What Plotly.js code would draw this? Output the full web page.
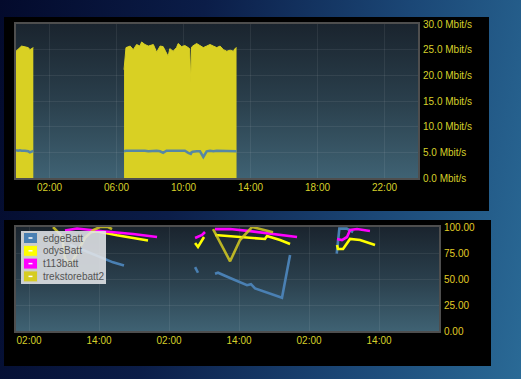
<!DOCTYPE html>
<html>
<head>
<meta charset="utf-8">
<script src="https://cdn.plot.ly/plotly-3.0.1.min.js"></script>
<style>
  html, body { margin:0; padding:0; width:521px; height:379px; overflow:hidden; }
  body { background: linear-gradient(100deg, #030a2c 0%, #0b1d48 35%, #1b4776 70%, #2a6a96 100%); position:relative; font-family: Arial, "Liberation Sans", sans-serif; }
  .panel { position:absolute; background:#000; }
  .plotbg { position:absolute; box-sizing:border-box; border:2px solid #4e4e4e;
            background: linear-gradient(to bottom, #1a242e 0%, #2a3f4c 50%, #3f6273 100%); }
  #chart { position:absolute; left:0; top:0; width:521px; height:379px; }
</style>
</head>
<body>
<div class="panel" style="left:4px;top:17px;width:485px;height:194px;"></div>
<div class="panel" style="left:4px;top:220px;width:487px;height:146px;"></div>
<div class="plotbg" style="left:14px;top:22px;width:406px;height:158px;"></div>
<div class="plotbg" style="left:14px;top:225px;width:427px;height:108px;"></div>
<div id="chart"></div>
<script>
// ---------- Top chart: throughput (Mbit/s) over one day ----------
const topDay = "2015-03-05";
const topTimes = ["00:00","00:08","00:14","00:20","00:32","00:44","00:50","00:56","01:02", null,
  "06:27","06:34","06:49","07:00","07:12","07:24","07:30","07:42","07:54","08:12","08:24","08:36","08:47",
  "08:59","09:05","09:11","09:23","09:35","09:41","09:53","10:05","10:17","10:22","10:26","10:29","10:33",
  "10:47","10:59","11:11","11:23","11:35","11:47","11:59","12:11","12:23","12:35","12:47","12:59","13:04","13:10"];
const downMbit = [24.7,25.0,25.4,25.7,25.5,25.4,25.0,25.2,25.4, null,
  21.1,25.4,25.7,25.0,26.0,25.7,26.5,26.0,25.7,26.0,24.5,25.7,25.6,
  24.4,23.7,25.2,24.7,25.4,26.2,25.6,25.8,25.4,25.2,18.6,25.5,25.7,
  26.2,25.8,25.4,25.7,26.0,25.7,25.4,25.7,25.0,24.7,24.9,24.7,25.2,25.4];
const upMbit = [5.4,5.3,5.4,5.3,5.3,5.2,5.0,5.2,5.3, null,
  5.2,5.3,5.3,5.3,5.4,5.3,5.3,5.3,5.2,5.3,5.3,5.2,4.9,
  5.3,5.3,5.3,5.2,5.3,5.3,5.2,5.3,4.9,4.8,4.7,5.0,5.1,
  5.2,5.2,4.1,5.2,5.3,5.2,5.3,5.3,5.2,5.3,5.2,5.3,5.2,5.2];
const topYTicks = [0,5,10,15,20,25,30];

// ---------- Bottom chart: battery levels (%) over three days ----------
const seriesNames = ["edgeBatt","odysBatt","t113batt","trekstorebatt2"];
const seriesColors = ["#4a80b3","#ffff00","#ff00ff","#d6cc22"];
const edgeTimes = ["2015-03-02 09:02","2015-03-02 11:57","2015-03-02 14:10","2015-03-02 16:24","2015-03-02 18:17", null,
  "2015-03-03 06:28","2015-03-03 06:58", null,
  "2015-03-03 09:53","2015-03-03 10:24","2015-03-03 12:28","2015-03-03 15:22","2015-03-03 16:03","2015-03-03 16:24","2015-03-03 16:45","2015-03-03 21:22","2015-03-03 22:45", null,
  "2015-03-04 06:45","2015-03-04 07:12","2015-03-04 08:28","2015-03-04 09:33"];
const edgeBatt = [83,76,71,66,63, null, 61.5,56, null, 55,56,51,44,45,43,41,32,73, null, 74.5,98.4,98.4,95];
const odysTimes = ["2015-03-02 12:27","2015-03-02 13:39","2015-03-02 17:05","2015-03-02 19:19","2015-03-02 22:24", null,
  "2015-03-03 06:28","2015-03-03 06:58","2015-03-03 08:00", null,
  "2015-03-03 09:53","2015-03-03 14:10","2015-03-03 16:14","2015-03-03 17:36","2015-03-03 18:27","2015-03-03 18:48","2015-03-03 21:02","2015-03-03 22:45", null,
  "2015-03-04 06:48","2015-03-04 06:58","2015-03-04 07:50","2015-03-04 08:31","2015-03-04 09:02","2015-03-04 10:45","2015-03-04 13:19"];
const odysBatt = [95,96,92,90,87, null, 84.6,80.8,90.4, null, 92.3,90.4,89.4,89.4,88.5,91.3,87.5,83.7, null, 82.7,78.8,78.8,83.7,88.5,87.5,82.7];
const t113Times = ["2015-03-02 08:10","2015-03-02 10:14","2015-03-02 14:10","2015-03-02 19:50","2015-03-02 23:57", null,
  "2015-03-03 06:28","2015-03-03 07:40","2015-03-03 08:10", null,
  "2015-03-03 09:53","2015-03-03 12:28","2015-03-03 15:53","2015-03-03 18:48","2015-03-03 21:02","2015-03-03 23:57", null,
  "2015-03-04 06:48","2015-03-04 07:39","2015-03-04 08:31","2015-03-04 09:02","2015-03-04 10:14","2015-03-04 11:05","2015-03-04 12:27"];
const t113batt = [96.6,98.6,96.2,93.3,90.4, null, 89.4,92.3,95.2, null, 98,98,96,94.2,92.3,90.4, null, 88.5,87.5,90.4,97.1,98,97.1,96.2];
const trekTimes = ["2015-03-02 06:07","2015-03-02 07:40","2015-03-02 08:10","2015-03-02 09:02","2015-03-02 11:36","2015-03-02 13:00","2015-03-02 14:10","2015-03-02 15:33","2015-03-02 16:14", null,
  "2015-03-03 09:33","2015-03-03 12:28","2015-03-03 14:10","2015-03-03 16:14","2015-03-03 19:50"];
const trekBatt = [100,91,70,63,89.5,97,100,100,98, null, 98,67,87.5,100,95];
const bottomYTicks = [0,25,50,75,100];

// ---------- Build ----------
const W = 521, H = 379;
const px = v => v / W, py = v => 1 - v / H;
const tickCol = "#d6d02a";
const tickFont = {family: "Arial, 'Liberation Sans', sans-serif", size: 10, color: tickCol};
const gridCol = "rgba(255,255,255,0.07)";

function splitSegments(xs, ys) {
  const segs = []; let cx = [], cy = [];
  xs.forEach((x, i) => {
    if (x === null || ys[i] === null) { if (cx.length) segs.push([cx, cy]); cx = []; cy = []; }
    else { cx.push(x); cy.push(ys[i]); }
  });
  if (cx.length) segs.push([cx, cy]);
  return segs;
}

const traces = [];
const topX = topTimes.map(t => t === null ? null : topDay + " " + t);
splitSegments(topX, downMbit).forEach(([sx, sy]) => {
  traces.push({type: "scatter", mode: "lines", x: sx, y: sy, xaxis: "x", yaxis: "y",
    fill: "tozeroy", fillcolor: "#d9d023", line: {color: "#d9d023", width: 1}, hoverinfo: "skip"});
});
traces.push({type: "scatter", mode: "lines", x: topX, y: upMbit, xaxis: "x", yaxis: "y", connectgaps: false,
  line: {color: "#4a80b3", width: 2.5}, opacity: 0.9, hoverinfo: "skip"});

const bottomData = [[edgeTimes, edgeBatt],[odysTimes, odysBatt],[t113Times, t113batt],[trekTimes, trekBatt]];
bottomData.forEach(([xs, ys], i) => {
  traces.push({type: "scatter", mode: "lines", name: seriesNames[i], x: xs, y: ys, xaxis: "x2", yaxis: "y2",
    connectgaps: false, line: {color: seriesColors[i], width: 2.6}, opacity: i === 3 ? 0.85 : 1, hoverinfo: "skip"});
});

// custom legend (flot style)
const shapes = [{type: "rect", xref: "paper", yref: "paper", x0: px(21), x1: px(106), y0: py(284), y1: py(231),
  fillcolor: "rgba(226,229,232,0.88)", line: {width: 0}, layer: "above"}];
const annotations = [];
seriesNames.forEach((n, i) => {
  const cy = 238 + 12.8 * i;
  shapes.push({type: "rect", xref: "paper", yref: "paper", x0: px(23.5), x1: px(37.5), y0: py(cy + 5.5), y1: py(cy - 5.5),
    fillcolor: seriesColors[i], line: {width: 1, color: "#ccc"}, layer: "above"});
  shapes.push({type: "line", xref: "paper", yref: "paper", x0: px(28.5), x1: px(32.5), y0: py(cy), y1: py(cy),
    line: {width: 1.5, color: "#ffffff"}, layer: "above"});
  annotations.push({xref: "paper", yref: "paper", x: px(41), y: py(cy), xanchor: "left", yanchor: "middle",
    text: n, showarrow: false, font: {family: "Arial, 'Liberation Sans', sans-serif", size: 10, color: "#545454"}});
});

const layout = {
  width: W, height: H, margin: {l: 0, r: 0, t: 0, b: 0},
  paper_bgcolor: "rgba(0,0,0,0)", plot_bgcolor: "rgba(0,0,0,0)", showlegend: false,
  xaxis: {domain: [px(16), px(418)], anchor: "y", type: "date",
    range: [topDay + " 00:00", "2015-03-06 00:00"], tick0: topDay + " 02:00", dtick: 4 * 3600000,
    tickformat: "%H:%M", tickfont: tickFont, showgrid: true, gridcolor: gridCol, zeroline: false,
    showline: false, ticks: "", ticklabelstandoff: 2},
  yaxis: {domain: [py(178), py(24)], anchor: "x", side: "right", range: [0, 30],
    tickvals: topYTicks, ticktext: topYTicks.map(v => v.toFixed(1) + " Mbit/s"),
    tickfont: tickFont, showgrid: true, gridcolor: gridCol, zeroline: false, showline: false, ticks: "", ticklabelstandoff: 4},
  xaxis2: {domain: [px(16), px(439)], anchor: "y2", type: "date",
    range: ["2015-03-01 23:46", "2015-03-05 00:17"], tick0: "2015-03-02 02:00", dtick: 12 * 3600000,
    tickformat: "%H:%M", tickfont: tickFont, showgrid: true, gridcolor: gridCol, zeroline: false,
    showline: false, ticks: "", ticklabelstandoff: 2},
  yaxis2: {domain: [py(331), py(227)], anchor: "x2", side: "right", range: [0, 100],
    tickvals: bottomYTicks, ticktext: bottomYTicks.map(v => v.toFixed(2)),
    tickfont: Object.assign({}, tickFont, {color: "#e0cc26"}), showgrid: true, gridcolor: gridCol, zeroline: false,
    showline: false, ticks: "", ticklabelstandoff: 4},
  shapes: shapes, annotations: annotations
};

Plotly.newPlot("chart", traces, layout, {staticPlot: true, displayModeBar: false});
</script>
</body>
</html>
